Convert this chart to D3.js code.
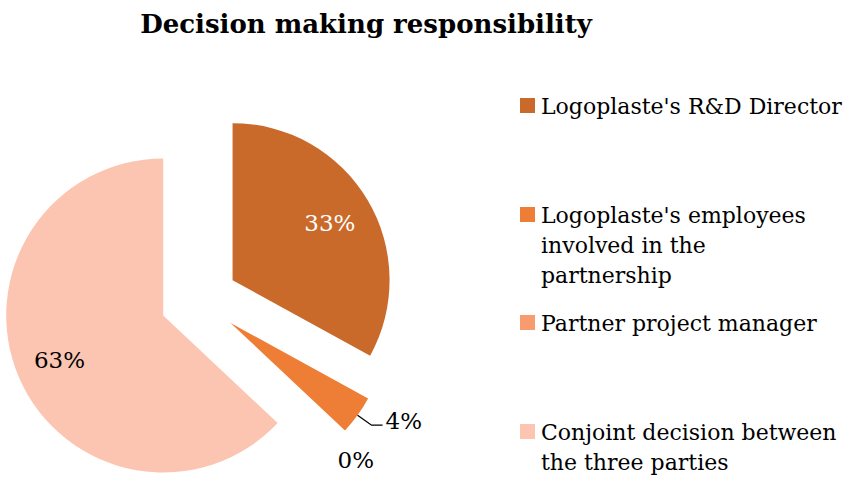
<!DOCTYPE html>
<html>
<head>
<meta charset="utf-8">
<script src="https://cdn.jsdelivr.net/npm/d3@7"></script>
<style>
  body { margin: 0; background: #fff; }
  svg { display: block; font-family: "DejaVu Serif", serif; }
</style>
</head>
<body>
<div id="chart"></div>
<script>
  'use strict';

  var categories = [
    "Logoplaste's R&D Director",
    "Logoplaste's employees involved in the partnership",
    'Partner project manager',
    'Conjoint decision between the three parties'
  ];
  var values = [33, 4, 0, 63];
  var colors = ['#C96A2B', '#EE7D35', '#F89C70', '#FCC5B2'];
  // legend lines, wrapped as in the picture
  var legendLines = [
    ["Logoplaste's R&D Director"],
    ["Logoplaste's employees", 'involved in the', 'partnership'],
    ['Partner project manager'],
    ['Conjoint decision between', 'the three parties']
  ];

  var WIDTH = 843, HEIGHT = 479;
  var CENTER = { x: 199, y: 300 };
  var RADIUS = 157;
  var EXPLODE = 39;

  var svg = d3.select('#chart').append('svg')
    .attr('width', WIDTH)
    .attr('height', HEIGHT);

  svg.append('text')
    .attr('x', 366)
    .attr('y', 33)
    .attr('text-anchor', 'middle')
    .attr('font-weight', 'bold')
    .attr('font-size', 26)
    .attr('fill', '#000')
    .text('Decision making responsibility');

  var pie = d3.pie().sort(null).value(function (d) { return d; });
  var arcs = pie(values);

  var arc = d3.arc().innerRadius(0).outerRadius(RADIUS);
  var labelArc = d3.arc().innerRadius(RADIUS * 0.72).outerRadius(RADIUS * 0.72);

  function offset(d) {
    var mid = (d.startAngle + d.endAngle) / 2;
    return [Math.sin(mid) * EXPLODE, -Math.cos(mid) * EXPLODE];
  }

  var pieG = svg.append('g')
    .attr('transform', 'translate(' + CENTER.x + ',' + CENTER.y + ')');

  var slices = pieG.selectAll('g.slice')
    .data(arcs)
    .enter().append('g')
    .attr('class', 'slice')
    .attr('transform', function (d) {
      var o = offset(d);
      return 'translate(' + o[0] + ',' + o[1] + ')';
    });

  slices.append('path')
    .attr('d', arc)
    .attr('fill', function (d, i) { return colors[i]; });

  //inside labels for the big slices
  slices.filter(function (d) { return d.value >= 10; })
    .append('text')
    .attr('transform', function (d) { return 'translate(' + labelArc.centroid(d) + ')'; })
    .attr('text-anchor', 'middle')
    .attr('dy', '0.35em')
    .attr('font-size', 23)
    .attr('fill', function (d) { return d.index === 0 ? '#fff' : '#000'; })
    .text(function (d) { return d.value + '%'; });

  //outside labels for the small slices
  slices.filter(function (d) { return d.value < 10; })
    .each(function (d) {
      var g = d3.select(this);
      var mid = (d.startAngle + d.endAngle) / 2;
      var edge = [Math.sin(mid) * RADIUS, -Math.cos(mid) * RADIUS];
      if (d.value > 0) {
        var elbow = [edge[0] + 14, edge[1] + 10];
        var end = [elbow[0] + 11, elbow[1]];
        g.append('polyline')
          .attr('points', [edge, elbow, end].map(function (p) { return p.join(','); }).join(' '))
          .attr('fill', 'none')
          .attr('stroke', '#000')
          .attr('stroke-width', 1.3);
        g.append('text')
          .attr('x', end[0] + 3)
          .attr('y', end[1] + 4)
          .attr('font-size', 23)
          .attr('fill', '#000')
          .text(d.value + '%');
      } else {
        g.append('text')
          .attr('x', edge[0] + 14)
          .attr('y', edge[1] + 34)
          .attr('text-anchor', 'middle')
          .attr('font-size', 23)
          .attr('fill', '#000')
          .text(d.value + '%');
      }
    });

  //legend
  var legendTops = [106, 215, 323, 432];
  var legend = svg.append('g').attr('class', 'legend');
  var items = legend.selectAll('g.item')
    .data(categories)
    .enter().append('g')
    .attr('class', 'item')
    .attr('transform', function (d, i) { return 'translate(520,' + legendTops[i] + ')'; });

  items.append('rect')
    .attr('x', 0)
    .attr('y', -8)
    .attr('width', 15)
    .attr('height', 15)
    .attr('fill', function (d, i) { return colors[i]; });

  items.append('text')
    .attr('x', 21)
    .attr('y', 0)
    .attr('font-size', 22)
    .attr('fill', '#000')
    .each(function (d, i) {
      var t = d3.select(this);
      legendLines[i].forEach(function (line, j) {
        t.append('tspan')
          .attr('x', 21)
          .attr('dy', j === 0 ? '0.35em' : 30)
          .text(line);
      });
    });
</script>
</body>
</html>
